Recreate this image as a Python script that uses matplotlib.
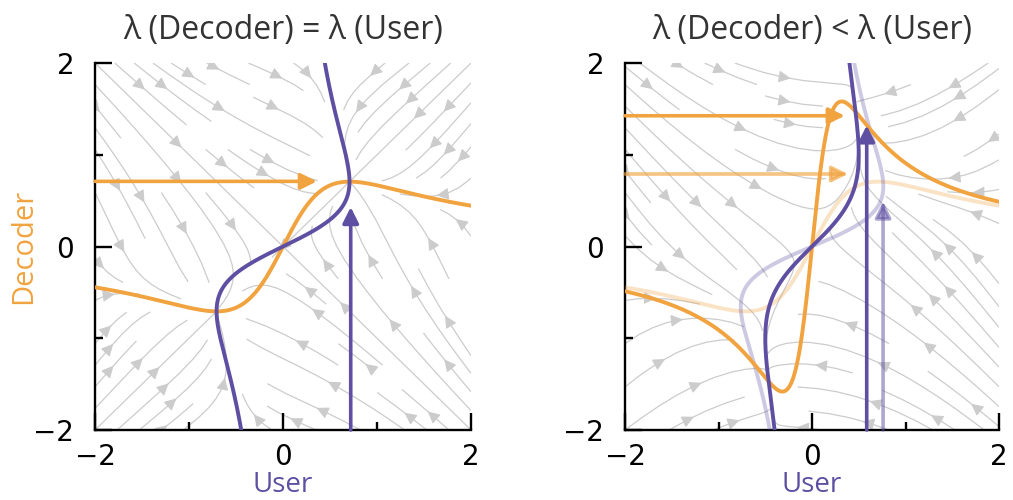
import numpy as np
import matplotlib.pyplot as plt
from matplotlib.ticker import FixedLocator

plt.rcParams['font.family'] = ['Open Sans', 'DejaVu Sans']

ORANGE = "#f1a340"
PURPLE = "#5e4fa2"
STREAM = "#cccccc"

titles = ["λ (Decoder) = λ (User)", "λ (Decoder) < λ (User)"]

# regularisation weights per panel: (user, decoder)
lam_panels = [(0.5, 0.5), (1.0, 0.1)]
# previous setting shown faded in the second panel
lam_faded = (0.43, 0.5)

# equilibrium arrows: decoder level / user arrow tip x, user level / decoder arrow tip y
dec_level = [0.71, 1.425]
dec_tip_x = [0.36, 0.35]
user_level = [0.72, 0.585]
user_tip_y = [0.43, 1.32]
faded_dec_level, faded_dec_tip_x = 0.79, 0.385
faded_user_level, faded_user_tip_y = 0.76, 0.49

major_ticks = [-2, 0, 2]
minor_ticks = [-1, 1]


def best_user(y, lam):
    # user gain minimising (x*y - 1)^2 + lam * x^2
    return y / (lam + y ** 2)


def best_decoder(x, lam):
    return x / (lam + x ** 2)


def field(x, y, lam_u, lam_d):
    err = x * y - 1
    return -(y * err + lam_u * x), -(x * err + lam_d * y)


def arrow(ax, start, tip, color, alpha=1.0):
    ax.annotate("", xy=tip, xytext=start,
                arrowprops=dict(arrowstyle="-|>", color=color, lw=2.6, alpha=alpha,
                                mutation_scale=24, shrinkA=0, shrinkB=0),
                zorder=4)


def nullclines(ax, lam_u, lam_d, alpha=1.0):
    s = np.linspace(-2.2, 2.2, 600)
    ax.plot(s, best_decoder(s, lam_d), color=ORANGE, lw=2.8, alpha=alpha, zorder=3,
            solid_capstyle='butt')
    ax.plot(best_user(s, lam_u), s, color=PURPLE, lw=2.8, alpha=alpha, zorder=3,
            solid_capstyle='butt')


fig = plt.figure(figsize=(10.13, 5.0), dpi=100)
axes = [fig.add_axes([0.0938, 0.14, 0.3712, 0.734]),
        fig.add_axes([0.617, 0.14, 0.3692, 0.734])]

g = np.linspace(-2, 2, 200)
X, Y = np.meshgrid(g, g)

for i, ax in enumerate(axes):
    lam_u, lam_d = lam_panels[i]
    U, V = field(X, Y, lam_u, lam_d)
    ax.streamplot(X, Y, U, V, density=0.6, color=STREAM, linewidth=0.9,
                  arrowsize=1.8, zorder=0)

    if i == 1:
        nullclines(ax, *lam_faded, alpha=0.3)
        arrow(ax, (-2, faded_dec_level), (faded_dec_tip_x, faded_dec_level), ORANGE, 0.65)
        arrow(ax, (faded_user_level, -2), (faded_user_level, faded_user_tip_y), PURPLE, 0.5)

    nullclines(ax, lam_u, lam_d)
    arrow(ax, (-2, dec_level[i]), (dec_tip_x[i], dec_level[i]), ORANGE)
    arrow(ax, (user_level[i], -2), (user_level[i], user_tip_y[i]), PURPLE)

    ax.set_xlim(-2, 2)
    ax.set_ylim(-2, 2)
    for side in ("top", "right"):
        ax.spines[side].set_visible(False)
    for side in ("left", "bottom"):
        ax.spines[side].set_linewidth(1.7)
    ax.xaxis.set_major_locator(FixedLocator(major_ticks))
    ax.yaxis.set_major_locator(FixedLocator(major_ticks))
    ax.xaxis.set_minor_locator(FixedLocator(minor_ticks))
    ax.yaxis.set_minor_locator(FixedLocator(minor_ticks))
    ax.tick_params(which="major", direction="in", length=12, width=1.7, labelsize=20)
    ax.tick_params(axis="x", which="major", pad=9.5)
    ax.tick_params(axis="y", which="major", pad=15)
    ax.tick_params(which="minor", direction="in", length=6, width=1.7)
    for lbl in ax.get_xticklabels() + ax.get_yticklabels():
        lbl.set_fontfamily("DejaVu Sans")

    ax.set_title(titles[i], fontsize=23, color="#333333", pad=17)
    ax.set_xlabel("User", fontsize=20, color=PURPLE)
    ax.xaxis.set_label_coords(0.5, -0.112)

axes[0].set_ylabel("Decoder", fontsize=21, color=ORANGE)
axes[0].yaxis.set_label_coords(-0.15, 0.5)

fig.savefig("out.png", dpi=100)
